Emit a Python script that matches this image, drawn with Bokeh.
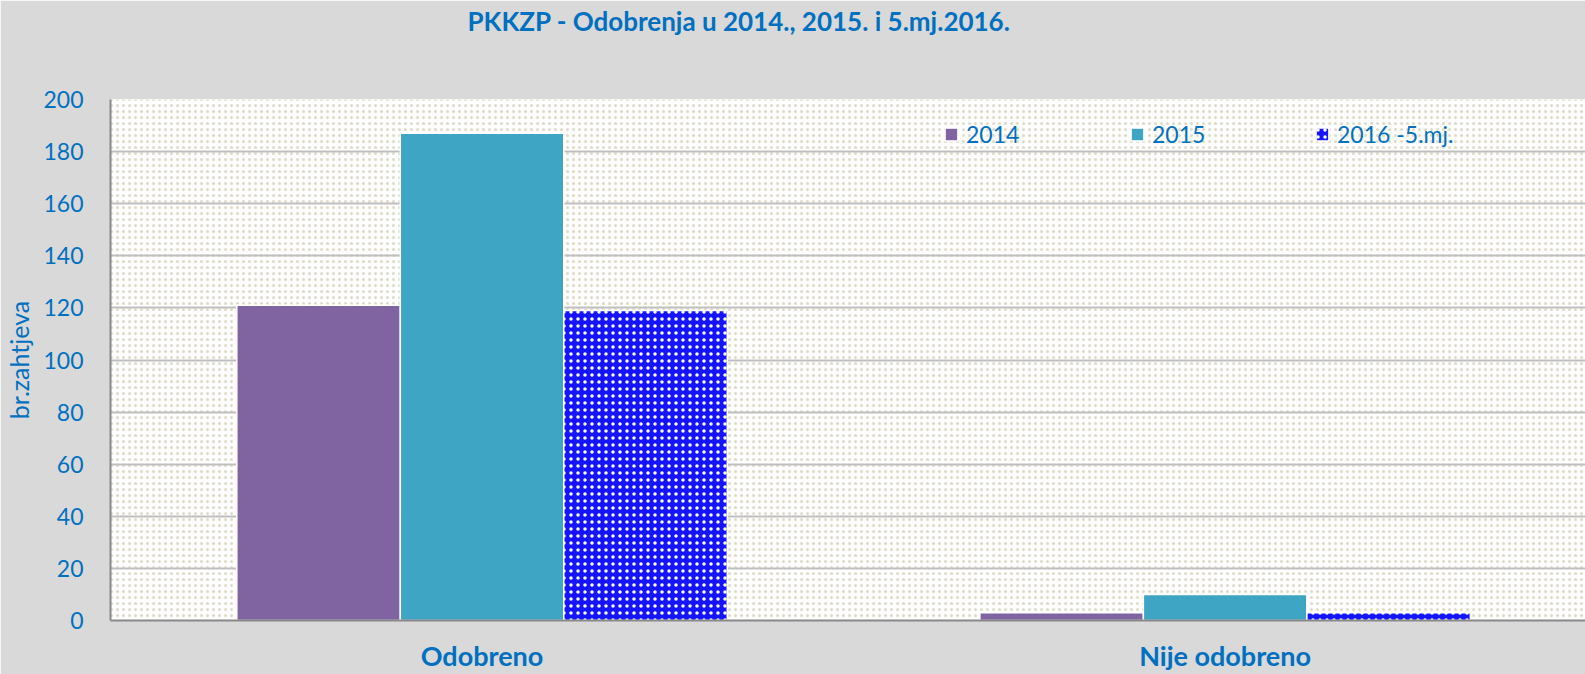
import numpy as np
from bokeh.plotting import figure
from bokeh.models import (Range1d, FixedTicker, Legend, LegendItem, BoxAnnotation,
                          ColumnDataSource, Title)
from bokeh.transform import dodge
from bokeh.embed import file_html
from bokeh.resources import INLINE

# ---- data ----
categories = ["Odobreno", "Nije odobreno"]
series_labels = ["2014", "2015", "2016 -5.mj."]
v2014 = [121, 3]
v2015 = [187, 10]
v2016 = [119, 3]
y_ticks = [0, 20, 40, 60, 80, 100, 120, 140, 160, 180, 200]
title_text = "PKKZP - Odobrenja u 2014., 2015. i 5.mj.2016."
y_label = "br.zahtjeva"

BLUE_TEXT = "#0070C0"
FONT = "Lato"

pos = list(range(1, len(categories) + 1))
src = ColumnDataSource(dict(x=pos, cat=categories, y2014=v2014, y2015=v2015, y2016=v2016))

p = figure(width=1585, height=674, output_backend="svg", toolbar_location=None,
           x_range=Range1d(0.5, 2.485), y_range=Range1d(0, 200),
           min_border_left=110, min_border_right=0, min_border_top=0, min_border_bottom=52,
           background_fill_color="white", border_fill_color="#D9D9D9",
           outline_line_color=None)

# spacer between title and plot area (closest to frame)
p.add_layout(Title(text=" ", text_font_size="20px", standoff=37,
                   background_fill_color=None), "above")

# title (outermost)
p.title.text = title_text
p.title.align = "left"
p.title.offset = 357
p.title.text_font = FONT
p.title.text_font_size = "26px"
p.title.text_font_style = "bold"
p.title.text_color = BLUE_TEXT
p.title.standoff = 4

# dotted plot-area background
bg = BoxAnnotation(fill_alpha=0, line_color=None, hatch_pattern="dot",
                   hatch_color="#DEDAC5", hatch_scale=6, hatch_weight=1.0, level="image")
p.add_layout(bg)

# grid
p.xgrid.visible = False
p.ygrid.ticker = FixedTicker(ticks=y_ticks)
p.ygrid.grid_line_color = "#BFBFBF"
p.ygrid.grid_line_width = 2

# bars
W = 0.22
r14 = p.vbar(x=dodge("x", -W, range=p.x_range), top="y2014", width=W, source=src,
             fill_color="#8064A2", line_color="white", line_width=1.5)
r15 = p.vbar(x=dodge("x", 0, range=p.x_range), top="y2015", width=W, source=src,
             fill_color="#3FA5C4", line_color="white", line_width=1.5)
r16 = p.vbar(x=dodge("x", W, range=p.x_range), top="y2016", width=W, source=src,
             fill_color="#1414FF", line_color="white", line_width=1.5,
             hatch_pattern="dot", hatch_color="white", hatch_scale=7, hatch_weight=1.0)

# legends (one per entry, placed individually)
for r, lab, lx in zip([r14, r15, r16], series_labels, [833, 1019, 1204]):
    leg = Legend(items=[LegendItem(label=lab, renderers=[r])], location=(lx, 472),
                 orientation="horizontal", padding=0, margin=0, spacing=0,
                 glyph_width=16, glyph_height=16, label_standoff=7,
                 label_text_font=FONT, label_text_font_size="23px",
                 label_text_color=BLUE_TEXT, background_fill_alpha=0,
                 border_line_color=None)
    p.add_layout(leg)

# x axis
p.xaxis.ticker = FixedTicker(ticks=pos)
p.xaxis.major_label_overrides = dict(zip(pos, categories))
p.xaxis.major_label_text_font = FONT
p.xaxis.major_label_text_font_size = "27px"
p.xaxis.major_label_text_font_style = "bold"
p.xaxis.major_label_text_color = BLUE_TEXT
p.xaxis.major_label_standoff = 12
p.xaxis.major_tick_line_color = None
p.xaxis.minor_tick_line_color = None
p.xaxis.axis_line_color = "#898989"
p.xaxis.axis_line_width = 2

# y axis
p.yaxis.ticker = FixedTicker(ticks=y_ticks)
p.yaxis.major_label_text_font = FONT
p.yaxis.major_label_text_font_size = "23px"
p.yaxis.major_label_text_color = BLUE_TEXT
p.yaxis.major_label_standoff = 21
p.yaxis.major_tick_line_color = None
p.yaxis.minor_tick_line_color = None
p.yaxis.axis_line_color = "#898989"
p.yaxis.axis_line_width = 2
p.yaxis.axis_label = y_label
p.yaxis.axis_label_text_font = FONT
p.yaxis.axis_label_text_font_size = "25px"
p.yaxis.axis_label_text_font_style = "normal"
p.yaxis.axis_label_text_color = BLUE_TEXT
p.yaxis.axis_label_standoff = 6

open("out.html", "w").write(file_html(p, INLINE))
